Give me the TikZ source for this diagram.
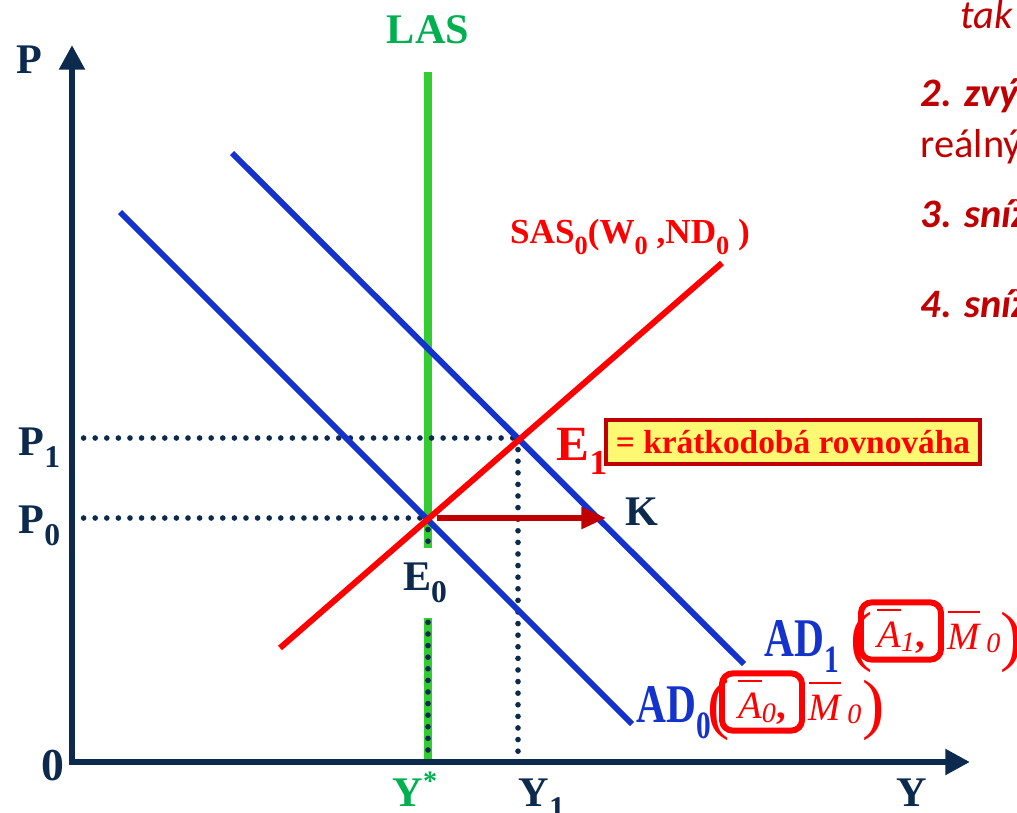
\documentclass[tikz,border=0pt]{standalone}
\usepackage{fontspec}
\setmainfont{Liberation Serif}
\newfontfamily\calibri{Carlito}
\usetikzlibrary{calc, positioning}
\usetikzlibrary{arrows.meta}
\definecolor{navy}{HTML}{0C2A4E}
\definecolor{adblue}{HTML}{1432CC}
\definecolor{lasgreen}{RGB}{51,204,51}
\definecolor{lblgreen}{RGB}{0,176,80}
\definecolor{darkred}{HTML}{C00000}
\newcommand{\lo}[2][9]{\raisebox{-.3em}{\fontsize{#1}{#1}\selectfont #2}}
\newcommand{\ob}[1]{\leavevmode\vbox{\hrule height .7pt\kern 3pt\hbox{#1}}}
\newcommand{\sm}[1]{\raisebox{-.1em}{\fontsize{8}{8}\selectfont #1}}
\newcommand{\adlbl}[1]{\scalebox{.76}[1]{AD\lo[11]{#1}}}

\begin{document}
\begin{tikzpicture}[x=0.1mm, y=-0.1mm,
  axis/.style={navy, line width=1.8pt},
  guide/.style={navy, line width=1.6pt, line cap=round, dash pattern=on 0pt off 3.3pt},
  curve/.style={line width=1.7pt},
  lbl/.style={font=\fontsize{12}{14}\selectfont\bfseries, text=navy, inner sep=0pt, anchor=base west},
  big/.style={font=\fontsize{15.5}{17}\selectfont\bfseries, text=adblue, inner sep=0pt, anchor=base west},
  paren/.style={font=\fontsize{19}{19}\selectfont, text=red, inner sep=0pt},
  abox/.style={draw=red, line width=1.7pt, rounded corners=3pt, text=red, inner xsep=2pt, inner ysep=1.8pt,
    minimum width=8mm, font=\fontsize{11}{13}\selectfont\itshape},
  mbar/.style={text=red, inner sep=0pt, anchor=base west, font=\fontsize{11}{13}\selectfont\itshape},
  note/.style={font=\calibri\fontsize{11.5}{14}\selectfont, text=darkred, inner sep=0pt, anchor=base west}]
\useasboundingbox (0,0) rectangle (1017,813);

% points of the model
\coordinate (O) at (72,762);
\coordinate (ptop) at (72,45);
\coordinate (yend) at (970,762);
\coordinate (E0pt) at (428,518);
\coordinate (E1pt) at (518,438);
\coordinate (lastop) at (428,72);
\coordinate (ktip) at (606,518);

% LAS
\draw[lasgreen, line width=2pt] (lastop) -- (E0pt |- O);
\draw[guide] (E0pt) -- (E0pt |- O);
\node[lbl, text=lblgreen, anchor=center] (las) at (428,30) {LAS};

% dotted guides
\draw[guide] (E0pt -| O) -- (E0pt);
\draw[guide] (E1pt -| O) -- (E1pt);
\draw[guide] (E1pt) -- (E1pt |- O);

% curves
\coordinate (sasA) at (280,648);
\coordinate (sasB) at (722,263);
\coordinate (adA) at (120,212);
\coordinate (adB) at (632,724);
\coordinate (adC) at (232,153);
\coordinate (adD) at (744,664);
\draw[curve, adblue] (adA) -- (adB);
\draw[curve, adblue] (adC) -- (adD);
\draw[curve, red] (sasA) -- (sasB);

% axes
\draw[axis, {Triangle[width=7pt,length=7pt]}-{Triangle[width=7pt,length=7pt]}] (ptop) -- (O) -- (yend);

\draw[darkred, line width=1.5pt, shorten <=0.9mm, -{Triangle[width=6pt,length=7pt]}] (E0pt) -- (ktip);

% labels
\node[lbl] (P) at (16,73) {P};
\node[lbl, font=\fontsize{13}{15}\selectfont\bfseries] (zero) at (41,780) {0};
\node[lbl] (Y) at (896,806) {Y};
\node[lbl, text=lblgreen] (ystar) at (392,806) {Y\textsuperscript{*}};
\node[lbl] (y1) at (518,806) {Y\lo{1}};
\node[lbl] (p1) at (18,455) {P\lo{1}};
\node[lbl] (p0) at (18,533) {P\lo{0}};
\node[lbl] (K) at (625,525) {K};
\node[lbl, fill=white, anchor=center, minimum height=7mm, inner sep=1pt] (E0) at (425,583) {E\lo{0}};
\node[lbl, text=red, font=\fontsize{14}{16}\selectfont\bfseries] (E1) at (556,460) {E\lo[10]{1}};
\node[lbl, text=red, font=\fontsize{10}{12}\selectfont\bfseries, anchor=center] (sas) at (630,237)
  {SAS\lo[7.5]{0}(W\lo[7.5]{0} ,ND\lo[7.5]{0} )};
\node[draw=darkred, line width=1.3pt, fill=yellow!55, text=red, font=\fontsize{9.5}{11}\selectfont\bfseries,
  minimum width=37.4mm, minimum height=4.4mm, inner sep=0pt] (short) at (793,442) {= krátkodobá rovnováha};

% AD labels
\node[big] (ad0) at (636,722) {\adlbl{0}};
\node[paren] (lp0) at (719,710) {(};
\node[abox] (a0) at (762,702) {\ob{A}\sm{0}\upshape\bfseries,};
\node[mbar] (m0) at (808,720) {\ob{M}\,\sm{0}};
\node[paren] (rp0) at (874,710) {)};
\node[big] (ad1) at (764,656) {\adlbl{1}};
\node[paren] (lp1) at (862,642) {(};
\node[abox] (a1) at (901,631) {\ob{A}\sm{1}\upshape\bfseries,};
\node[mbar] (m1) at (947,649) {\ob{M}\,\sm{0}};
\node[paren] (rp1) at (1012,642) {)};

% notes at the right edge
\node[note, font=\calibri\fontsize{11.5}{14}\selectfont\itshape] (n0) at (960,28) {tak};
\node[note, font=\calibri\fontsize{11.5}{14}\selectfont\bfseries\itshape] (n2) at (920,106) {2. zvýš};
\node[note] (n2b) at (920,157) {reálný};
\node[note, font=\calibri\fontsize{11.5}{14}\selectfont\bfseries\itshape] (n3) at (920,227) {3. sníž};
\node[note, font=\calibri\fontsize{11.5}{14}\selectfont\bfseries\itshape] (n4) at (920,317) {4. sníž};
\end{tikzpicture}
\end{document}
